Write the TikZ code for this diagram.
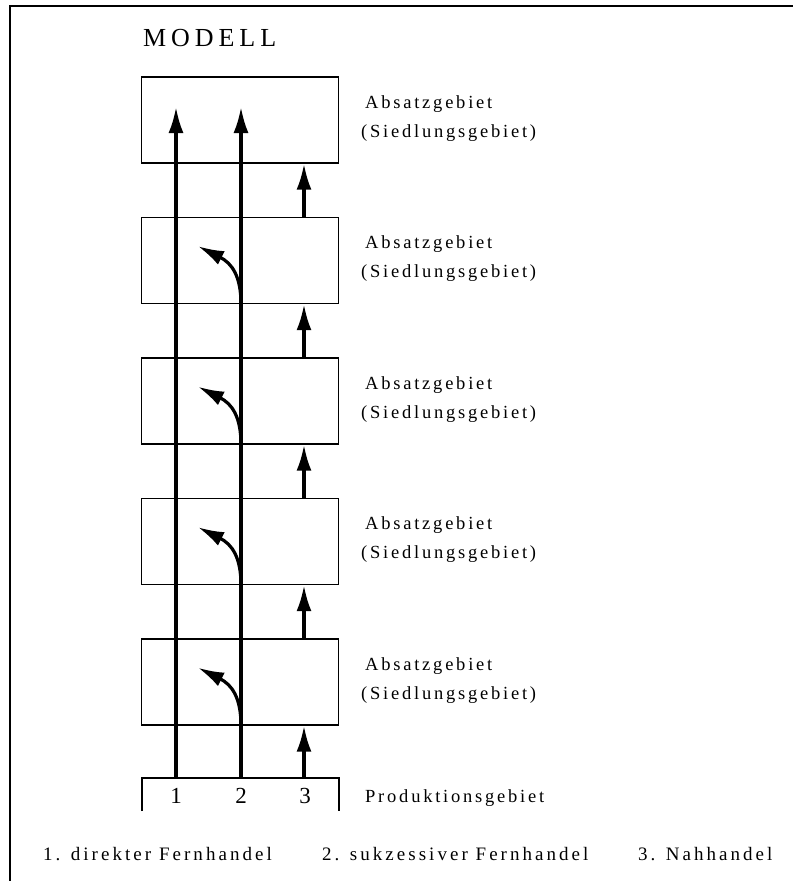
\documentclass[tikz,border=0pt]{standalone}
\usepackage{fontspec}
\setmainfont{Liberation Serif}
\newfontfamily\spaced[LetterSpace=15]{Liberation Serif}
\newfontfamily\legspaced[LetterSpace=16]{Liberation Serif}
\newfontfamily\titlespaced[LetterSpace=19]{Liberation Serif}
\usetikzlibrary{arrows.meta}
\begin{document}
\begin{tikzpicture}[x=1pt,y=-1pt,
  box/.style={draw,line width=1.4pt,minimum width=197pt,minimum height=86pt,inner sep=0pt},
  boxline/.style={line width=1.4pt},
  flow/.style={line width=3.2pt,-{Latex[length=26pt,width=15pt]}},
  lab/.style={anchor=base west,inner sep=0pt,font=\spaced\fontsize{18.5}{21}\selectfont},
  leg/.style={anchor=base west,inner sep=0pt,font=\legspaced\fontsize{19}{22}\selectfont},
  num/.style={anchor=base,inner sep=0pt,font=\fontsize{23}{26}\selectfont}]
\useasboundingbox (0,0) rectangle (793,881);
% frame
\draw[line width=1.8pt] (10,881) -- (10,6) -- (793,6);
% title
\node[anchor=base west,inner sep=0pt,font=\titlespaced\fontsize{26}{30}\selectfont] (title) at (143,46) {MODELL};
% boxes
\node[box] (b1) at (240,120) {};
\node[box] (b2) at (240,260.5) {};
\node[box] (b3) at (240,401) {};
\node[box] (b4) at (240,541.5) {};
\node[box] (b5) at (240,682) {};
% production box (open at bottom)
\draw[boxline] (142,811) -- (142,778) -- (339,778) -- (339,811);
% labels
\node[lab] (a1) at (365,108) {Absatzgebiet};
\node[lab] (s1) at (361,137) {(Siedlungsgebiet)};
\node[lab] (a2) at (365,248.5) {Absatzgebiet};
\node[lab] (s2) at (361,277.5) {(Siedlungsgebiet)};
\node[lab] (a3) at (365,389) {Absatzgebiet};
\node[lab] (s3) at (361,418) {(Siedlungsgebiet)};
\node[lab] (a4) at (365,529.5) {Absatzgebiet};
\node[lab] (s4) at (361,558.5) {(Siedlungsgebiet)};
\node[lab] (a5) at (365,670) {Absatzgebiet};
\node[lab] (s5) at (361,699) {(Siedlungsgebiet)};
\node[lab] (pl) at (365,802) {Produktionsgebiet};
% numbers
\node[num] (n1) at (176,803) {1};
\node[num] (n2) at (241,803) {2};
\node[num] (n3) at (305,803) {3};
% coordinates
\coordinate (x2) at (241,0);
\coordinate (x3) at (304,0);
\coordinate (p1) at (176,778);
\coordinate (p2) at (241,778);
\coordinate (p3) at (304,778);
\coordinate (t1) at (176,107);
\coordinate (t2) at (241,107);
% direct long-distance trade and successive trade trunks
\draw[flow] (p1) -- (t1);
\draw[flow] (p2) -- (t2);
% successive trade branches
\foreach \i in {2,3,4,5}{
  \coordinate (c\i) at (b\i.south -| x2);
  \draw[flow] (c\i) .. controls ([yshift=28pt]c\i) and ([xshift=-9pt,yshift=41pt]c\i) .. ([xshift=-43pt,yshift=58pt]c\i);
}
% short-distance trade
\draw[flow] (p3) -- (b5.south -| x3);
\draw[flow] (b5.north -| x3) -- (b4.south -| x3);
\draw[flow] (b4.north -| x3) -- (b3.south -| x3);
\draw[flow] (b3.north -| x3) -- (b2.south -| x3);
\draw[flow] (b2.north -| x3) -- (b1.south -| x3);
% legend
\node[leg] (l1) at (43,860) {1. direkter Fernhandel};
\node[leg] (l2) at (322,860) {2. sukzessiver Fernhandel};
\node[leg] (l3) at (638,860) {3. Nahhandel};
\end{tikzpicture}
\end{document}
